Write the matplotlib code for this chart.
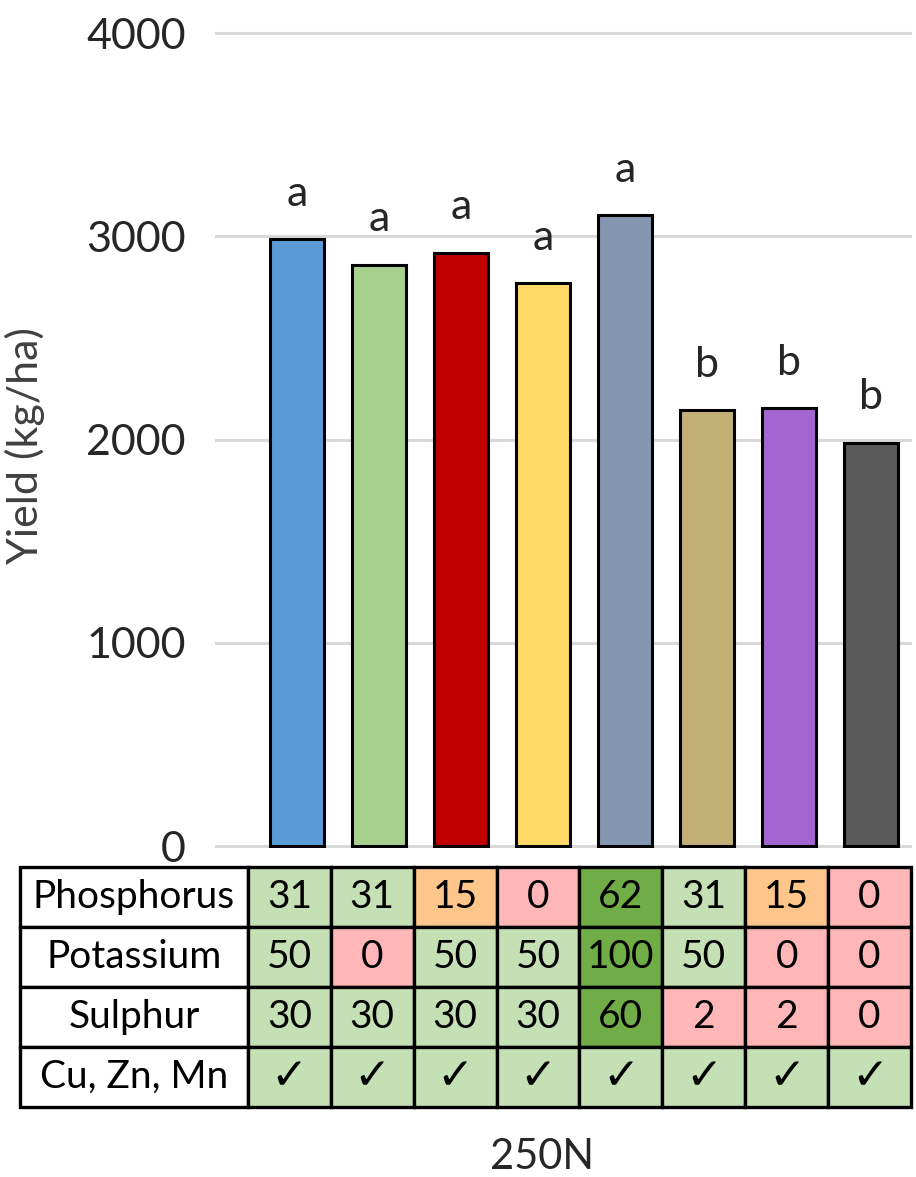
import matplotlib.pyplot as plt
from matplotlib.patches import Rectangle

# grain yield per fertiliser treatment (kg/ha) and significance letters
yields = [2985, 2860, 2920, 2770, 3105, 2145, 2155, 1985]
letters = ['a', 'a', 'a', 'a', 'a', 'b', 'b', 'b']
bar_colors = ['#5B9BD5', '#A9D18E', '#C00000', '#FFD966',
              '#8497B0', '#C2AF76', '#A366D1', '#595959']

# nutrient rates applied in each treatment
nutrients = ['Phosphorus', 'Potassium', 'Sulphur', 'Cu, Zn, Mn']
phosphorus = ['31', '31', '15', '0', '62', '31', '15', '0']
potassium = ['50', '0', '50', '50', '100', '50', '0', '0']
sulphur = ['30', '30', '30', '30', '60', '2', '2', '0']
trace = ['\u2713'] * 8

# rate level of each cell, used for shading
phosphorus_level = ['full', 'full', 'half', 'low', 'double', 'full', 'half', 'low']
potassium_level = ['full', 'low', 'full', 'full', 'double', 'full', 'low', 'low']
sulphur_level = ['full', 'full', 'full', 'full', 'double', 'low', 'low', 'low']
trace_level = ['full'] * 8
level_colors = {'full': '#C5E0B4', 'double': '#70AD47',
                'half': '#FFC68B', 'low': '#FFB6B6'}

n_label = 'Yield (kg/ha)'
group_label = '250N'

W, H = 916, 1177
plt.rcParams['font.family'] = ['Lato', 'DejaVu Sans']
fig = plt.figure(figsize=(W / 100, H / 100), dpi=100)


def px_axes(left, top, right, bottom):
    return fig.add_axes([left / W, 1 - bottom / H,
                         (right - left) / W, (bottom - top) / H])


# bar chart
px_per_unit = 813 / 4000
y0 = 846
ax = px_axes(215, y0 - 4010 * px_per_unit, 912, y0 + 10 * px_per_unit)
x = list(range(len(yields)))
ax.bar(x, yields, width=0.66, color=bar_colors, edgecolor='black',
       linewidth=2.2, zorder=3)
for xi, val, lab in zip(x, yields, letters):
    ax.annotate(lab, (xi, val), xytext=(0, 24), textcoords='offset points',
                ha='center', va='baseline', fontsize=31, color='#262626')
ax.set_xlim(-1.0, 7.5)
ax.set_ylim(-10, 4010)
ax.set_yticks([0, 1000, 2000, 3000, 4000])
ax.set_xticks([])
ax.tick_params(axis='y', length=0, pad=21, labelsize=31, labelcolor='#262626')
ax.yaxis.grid(True, color='#D9D9D9', linewidth=2.2)
ax.set_axisbelow(True)
for s in ax.spines.values():
    s.set_visible(False)
ax.set_ylabel(n_label, fontsize=31, color='#404040')
ax.yaxis.set_label_coords((45 - 215) / 697, (846 - 446) / 813)

# nutrient table under the bars
tab = px_axes(20, 867, 911, 1107)
tab.set_xlim(-2.75, 8)
tab.set_ylim(4, 0)
tab.axis('off')
rows = [phosphorus, potassium, sulphur, trace]
levels = [phosphorus_level, potassium_level, sulphur_level, trace_level]
for r, (name, vals, lev) in enumerate(zip(nutrients, rows, levels)):
    tab.add_patch(Rectangle((-2.75, r), 2.75, 1, facecolor='white',
                            edgecolor='black', linewidth=2.4, clip_on=False))
    tab.text(-1.375, r + 0.5, name, ha='center', va='center', fontsize=28,
             color='black')
    for c, (v, lv) in enumerate(zip(vals, lev)):
        tab.add_patch(Rectangle((c, r), 1, 1, facecolor=level_colors[lv],
                                edgecolor='black', linewidth=2.4, clip_on=False))
        size = 32 if v == '\u2713' else 28
        tab.text(c + 0.5, r + 0.5, v, ha='center', va='center', fontsize=size,
                 color='black')

fig.text(542 / W, 1 - 1157 / H, group_label, ha='center', va='center',
         fontsize=30, color='#262626')

fig.savefig('out.png', dpi=100)
